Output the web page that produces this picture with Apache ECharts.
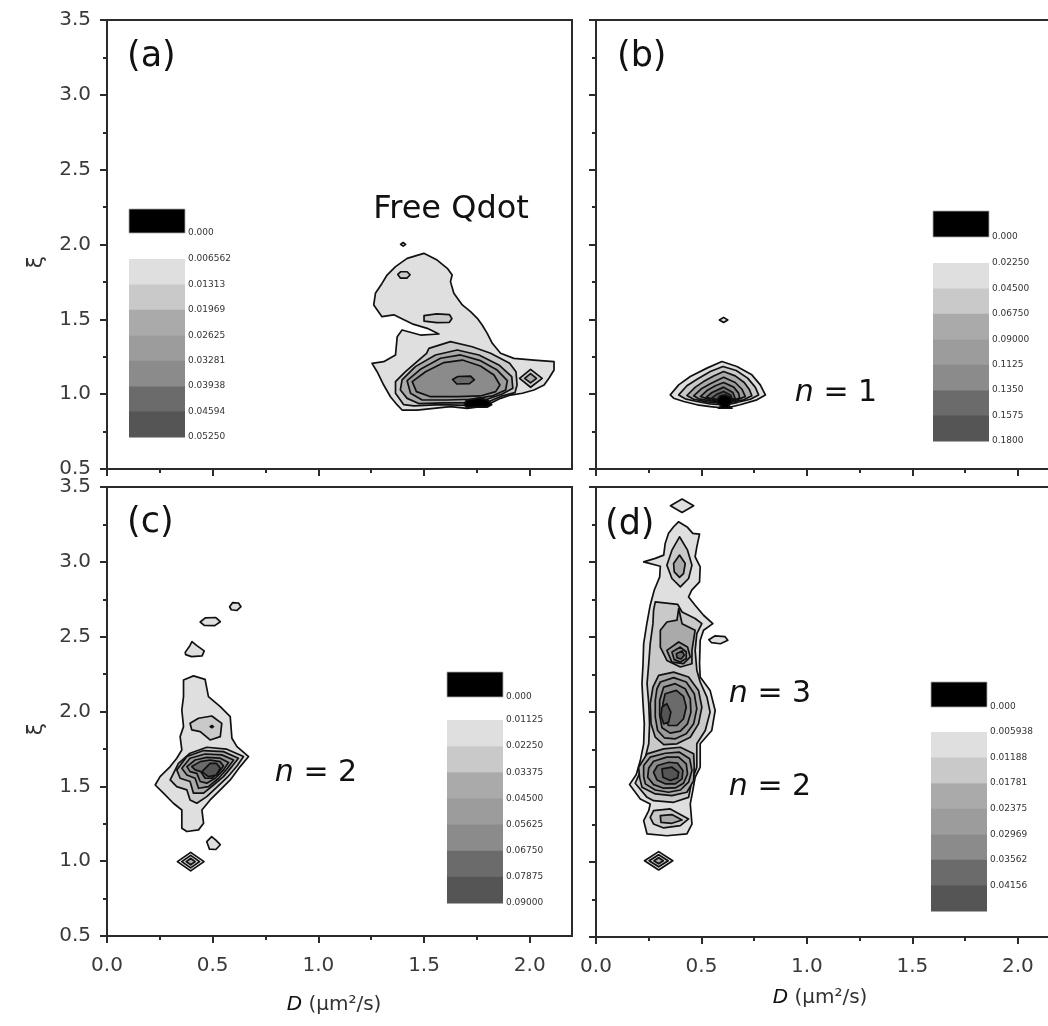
<!DOCTYPE html>
<html><head><meta charset="utf-8">
<script src="https://cdn.jsdelivr.net/npm/echarts@6/dist/echarts.min.js"></script>
<style>html,body{margin:0;padding:0;background:#fff;overflow:hidden;width:1048px;height:1026px}#c{width:1070px;height:1026px}</style>
</head><body><div id="c"></div>
<script>
// ---- axis ticks ----
const xTicks = [0, 0.5, 1, 1.5, 2];
const xMinor = [0.25, 0.75, 1.25, 1.75];
const yTicks = [0.5, 1, 1.5, 2, 2.5, 3, 3.5];
const yMinor = [0.75, 1.25, 1.75, 2.25, 2.75, 3.25];

// ---- contour band colours (lowest level first); level 8 = above top level ----
const bandColors = ['#dfdfdf', '#c9c9c9', '#aaaaaa', '#9c9c9c', '#8b8b8b', '#6b6b6b', '#555555'];
const topColor = '#000000';

// ---- legend level labels ----
const levelsA = ['0.006562', '0.01313', '0.01969', '0.02625', '0.03281', '0.03938', '0.04594', '0.05250'];
const levelsB = ['0.02250', '0.04500', '0.06750', '0.09000', '0.1125', '0.1350', '0.1575', '0.1800'];
const levelsC = ['0.01125', '0.02250', '0.03375', '0.04500', '0.05625', '0.06750', '0.07875', '0.09000'];
const levelsD = ['0.005938', '0.01188', '0.01781', '0.02375', '0.02969', '0.03562', '0.04156'];

// ---- contour rings: [level, [[D, xi], ...]] ----
const ringsA = [
 [1, [[1.499,1.941],[1.562,1.896],[1.610,1.841],[1.633,1.796],[1.625,1.752],[1.641,1.674],[1.681,1.596],[1.720,1.551],[1.752,1.507],[1.775,1.462],[1.799,1.406],[1.823,1.340],[1.862,1.273],[1.925,1.239],[2.020,1.228],[2.115,1.217],[2.115,1.161],[2.091,1.106],[2.068,1.061],[2.020,1.028],[1.965,1.006],[1.910,0.994],[1.862,0.972],[1.815,0.939],[1.767,0.917],[1.704,0.905],[1.625,0.917],[1.546,0.905],[1.467,0.894],[1.396,0.894],[1.373,0.928],[1.341,0.983],[1.309,1.061],[1.278,1.150],[1.254,1.206],[1.309,1.217],[1.365,1.262],[1.373,1.384],[1.396,1.429],[1.483,1.395],[1.570,1.402],[1.515,1.440],[1.444,1.470],[1.400,1.500],[1.357,1.530],[1.301,1.518],[1.262,1.596],[1.270,1.674],[1.301,1.740],[1.325,1.796],[1.365,1.852],[1.420,1.907]]],
 [1, [[1.389,2.001],[1.401,2.013],[1.413,2.001],[1.401,1.989]]],
 [2, [[1.376,1.800],[1.390,1.818],[1.420,1.818],[1.434,1.798],[1.420,1.776],[1.388,1.776]]],
 [2, [[1.500,1.525],[1.560,1.536],[1.620,1.532],[1.632,1.505],[1.620,1.480],[1.560,1.478],[1.500,1.488]]],
 [2, [[1.952,1.106],[2.004,1.166],[2.059,1.106],[2.004,1.046]]],
 [3, [[1.976,1.106],[2.004,1.137],[2.032,1.106],[2.004,1.075]]],
 [2, [[1.523,1.306],[1.625,1.351],[1.728,1.317],[1.815,1.273],[1.905,1.206],[1.935,1.150],[1.940,1.061],[1.930,1.010],[1.862,0.985],[1.799,0.945],[1.704,0.925],[1.578,0.930],[1.452,0.922],[1.404,0.930],[1.365,1.006],[1.365,1.084],[1.412,1.150],[1.475,1.228],[1.512,1.273]]],
 [3, [[1.396,1.095],[1.459,1.184],[1.554,1.262],[1.657,1.295],[1.760,1.262],[1.854,1.195],[1.915,1.117],[1.920,1.039],[1.870,1.001],[1.799,0.966],[1.704,0.942],[1.594,0.942],[1.475,0.937],[1.420,0.972],[1.388,1.028]]],
 [4, [[1.420,1.090],[1.483,1.166],[1.578,1.240],[1.673,1.262],[1.767,1.224],[1.846,1.161],[1.894,1.090],[1.886,1.028],[1.823,0.988],[1.728,0.966],[1.610,0.961],[1.491,0.961],[1.436,1.006]]],
 [5, [[1.444,1.084],[1.507,1.150],[1.594,1.211],[1.681,1.228],[1.767,1.188],[1.831,1.128],[1.859,1.061],[1.839,1.017],[1.767,0.988],[1.657,0.983],[1.531,0.983],[1.464,1.017]]],
 [6, [[1.635,1.098],[1.660,1.118],[1.720,1.121],[1.738,1.095],[1.715,1.070],[1.655,1.068]]],
 [8, [[1.700,0.960],[1.760,0.975],[1.800,0.962],[1.820,0.930],[1.800,0.914],[1.700,0.914],[1.690,0.930]]]
];

const ringsB = [
 [1, [[0.585,1.496],[0.605,1.513],[0.625,1.496],[0.605,1.479]]],
 [1, [[0.352,0.995],[0.392,1.062],[0.447,1.118],[0.526,1.174],[0.597,1.218],[0.668,1.185],[0.739,1.129],[0.779,1.062],[0.803,0.995],[0.763,0.962],[0.684,0.929],[0.613,0.906],[0.542,0.917],[0.479,0.929],[0.416,0.951],[0.368,0.973]]],
 [2, [[0.392,0.995],[0.431,1.056],[0.479,1.100],[0.542,1.151],[0.602,1.185],[0.665,1.158],[0.719,1.107],[0.755,1.047],[0.771,0.995],[0.732,0.966],[0.668,0.944],[0.613,0.929],[0.542,0.935],[0.479,0.951],[0.423,0.969]]],
 [3, [[0.431,0.991],[0.471,1.047],[0.510,1.084],[0.558,1.122],[0.605,1.151],[0.660,1.122],[0.703,1.078],[0.728,1.029],[0.739,0.989],[0.700,0.962],[0.613,0.940],[0.526,0.949],[0.463,0.966]]],
 [4, [[0.463,0.989],[0.502,1.038],[0.542,1.069],[0.605,1.113],[0.660,1.078],[0.692,1.033],[0.708,0.984],[0.668,0.962],[0.613,0.946],[0.542,0.955],[0.487,0.969]]],
 [5, [[0.495,0.984],[0.526,1.024],[0.566,1.056],[0.605,1.078],[0.653,1.047],[0.676,1.007],[0.681,0.973],[0.613,0.951],[0.542,0.962]]],
 [6, [[0.523,0.980],[0.550,1.011],[0.605,1.047],[0.649,1.011],[0.660,0.971],[0.613,0.955],[0.558,0.964]]],
 [7, [[0.550,0.975],[0.574,1.000],[0.605,1.018],[0.637,0.995],[0.645,0.969],[0.605,0.958],[0.570,0.964]]],
 [8, [[0.574,0.962],[0.589,0.989],[0.613,0.995],[0.637,0.980],[0.645,0.951],[0.629,0.922],[0.645,0.906],[0.581,0.906],[0.594,0.922],[0.577,0.940]]]
];

const ringsC = [
 [1, [[0.580,2.700],[0.595,2.728],[0.622,2.725],[0.634,2.700],[0.615,2.675],[0.588,2.680]]],
 [1, [[0.441,2.598],[0.465,2.625],[0.515,2.628],[0.536,2.600],[0.510,2.574],[0.460,2.576]]],
 [1, [[0.370,2.395],[0.392,2.440],[0.402,2.467],[0.425,2.440],[0.460,2.405],[0.450,2.372],[0.400,2.367],[0.372,2.380]]],
 [1, [[0.362,2.211],[0.409,2.238],[0.464,2.215],[0.480,2.099],[0.536,2.033],[0.583,1.966],[0.591,1.821],[0.615,1.765],[0.670,1.699],[0.630,1.632],[0.583,1.543],[0.536,1.476],[0.488,1.409],[0.449,1.342],[0.457,1.253],[0.433,1.209],[0.378,1.198],[0.354,1.220],[0.354,1.342],[0.314,1.387],[0.267,1.454],[0.228,1.509],[0.251,1.565],[0.299,1.632],[0.330,1.688],[0.354,1.743],[0.346,1.832],[0.362,1.899],[0.354,2.010],[0.362,2.099]]],
 [1, [[0.472,1.130],[0.495,1.164],[0.515,1.140],[0.536,1.110],[0.515,1.078],[0.485,1.080]]],
 [1, [[0.333,0.997],[0.396,1.059],[0.459,0.997],[0.396,0.935]]],
 [2, [[0.354,0.997],[0.396,1.039],[0.438,0.997],[0.396,0.955]]],
 [3, [[0.375,0.997],[0.396,1.018],[0.417,0.997],[0.396,0.976]]],
 [2, [[0.393,1.921],[0.433,1.955],[0.496,1.970],[0.543,1.921],[0.536,1.832],[0.488,1.810],[0.441,1.866],[0.401,1.877]]],
 [3, [[0.488,1.899],[0.496,1.906],[0.504,1.899],[0.496,1.892]]],
 [2, [[0.299,1.543],[0.338,1.654],[0.393,1.721],[0.472,1.761],[0.567,1.748],[0.646,1.699],[0.615,1.636],[0.570,1.561],[0.520,1.494],[0.472,1.431],[0.425,1.387],[0.393,1.409],[0.378,1.476],[0.330,1.498]]],
 [3, [[0.330,1.610],[0.378,1.699],[0.457,1.739],[0.551,1.732],[0.622,1.688],[0.591,1.632],[0.551,1.565],[0.504,1.509],[0.457,1.454],[0.409,1.454],[0.393,1.532],[0.346,1.554]]],
 [4, [[0.354,1.621],[0.393,1.688],[0.464,1.716],[0.543,1.710],[0.599,1.676],[0.570,1.621],[0.528,1.554],[0.480,1.498],[0.433,1.487],[0.417,1.554],[0.378,1.576]]],
 [5, [[0.378,1.632],[0.417,1.676],[0.472,1.694],[0.536,1.688],[0.575,1.659],[0.551,1.610],[0.512,1.554],[0.472,1.521],[0.441,1.532],[0.425,1.587],[0.393,1.598]]],
 [6, [[0.401,1.632],[0.441,1.665],[0.488,1.676],[0.536,1.665],[0.551,1.636],[0.528,1.592],[0.496,1.554],[0.464,1.554],[0.444,1.598],[0.417,1.610]]],
 [7, [[0.449,1.598],[0.488,1.654],[0.517,1.654],[0.536,1.621],[0.517,1.576],[0.480,1.565]]]
];

const ringsD = [
 [1, [[0.353,3.375],[0.408,3.420],[0.463,3.375],[0.408,3.330]]],
 [1, [[0.391,3.268],[0.434,3.231],[0.459,3.191],[0.491,3.186],[0.478,3.101],[0.470,3.035],[0.494,2.968],[0.491,2.868],[0.454,2.812],[0.439,2.767],[0.470,2.712],[0.510,2.645],[0.554,2.589],[0.510,2.545],[0.494,2.478],[0.491,2.322],[0.494,2.233],[0.541,2.144],[0.565,2.010],[0.549,1.877],[0.494,1.788],[0.494,1.632],[0.470,1.565],[0.459,1.476],[0.447,1.387],[0.455,1.253],[0.431,1.187],[0.336,1.175],[0.242,1.187],[0.226,1.276],[0.250,1.342],[0.257,1.387],[0.210,1.420],[0.159,1.516],[0.191,1.583],[0.210,1.676],[0.226,1.788],[0.229,1.921],[0.223,2.055],[0.218,2.189],[0.223,2.322],[0.226,2.456],[0.241,2.589],[0.257,2.712],[0.276,2.812],[0.302,2.901],[0.305,2.972],[0.226,3.001],[0.281,3.024],[0.321,3.046],[0.328,3.124],[0.344,3.191],[0.368,3.235]]],
 [1, [[0.535,2.482],[0.565,2.508],[0.612,2.502],[0.625,2.478],[0.590,2.455],[0.548,2.462]]],
 [2, [[0.396,3.168],[0.434,3.079],[0.455,2.979],[0.439,2.890],[0.400,2.834],[0.360,2.890],[0.336,2.979],[0.360,3.079]]],
 [3, [[0.396,3.046],[0.423,2.990],[0.415,2.923],[0.396,2.897],[0.371,2.934],[0.368,2.990]]],
 [2, [[0.281,2.734],[0.387,2.718],[0.408,2.667],[0.470,2.623],[0.502,2.589],[0.478,2.523],[0.470,2.411],[0.478,2.278],[0.494,2.200],[0.526,2.099],[0.541,1.999],[0.518,1.877],[0.478,1.788],[0.478,1.632],[0.455,1.543],[0.439,1.431],[0.368,1.398],[0.273,1.409],[0.242,1.431],[0.186,1.525],[0.207,1.592],[0.234,1.699],[0.250,1.788],[0.254,1.921],[0.250,2.055],[0.242,2.189],[0.250,2.322],[0.257,2.456],[0.270,2.589],[0.273,2.678]]],
 [3, [[0.392,2.690],[0.408,2.589],[0.470,2.545],[0.455,2.411],[0.455,2.322],[0.400,2.300],[0.336,2.344],[0.305,2.433],[0.305,2.545],[0.336,2.600],[0.384,2.612]]],
 [4, [[0.336,2.411],[0.392,2.467],[0.434,2.433],[0.447,2.367],[0.415,2.322],[0.360,2.333]]],
 [5, [[0.360,2.400],[0.400,2.433],[0.428,2.400],[0.428,2.356],[0.400,2.333],[0.371,2.349]]],
 [6, [[0.381,2.389],[0.408,2.407],[0.419,2.378],[0.403,2.353],[0.384,2.362]]],
 [3, [[0.297,2.244],[0.368,2.266],[0.439,2.233],[0.486,2.144],[0.502,2.033],[0.486,1.921],[0.447,1.832],[0.384,1.788],[0.321,1.783],[0.281,1.832],[0.261,1.921],[0.257,2.055],[0.270,2.166]]],
 [4, [[0.305,2.200],[0.368,2.229],[0.428,2.200],[0.466,2.122],[0.478,2.022],[0.463,1.921],[0.428,1.855],[0.376,1.821],[0.324,1.828],[0.292,1.877],[0.281,1.966],[0.281,2.077],[0.289,2.155]]],
 [5, [[0.321,2.166],[0.376,2.189],[0.423,2.155],[0.447,2.088],[0.450,1.999],[0.434,1.921],[0.400,1.872],[0.352,1.859],[0.313,1.895],[0.302,1.977],[0.302,2.077]]],
 [6, [[0.328,2.122],[0.381,2.144],[0.415,2.104],[0.428,2.033],[0.415,1.955],[0.384,1.910],[0.344,1.910],[0.321,1.966],[0.317,2.055]]],
 [7, [[0.313,2.033],[0.336,2.055],[0.355,1.999],[0.344,1.932],[0.321,1.921],[0.308,1.977]]],
 [3, [[0.242,1.721],[0.321,1.754],[0.400,1.765],[0.463,1.721],[0.466,1.632],[0.463,1.543],[0.431,1.465],[0.360,1.443],[0.281,1.454],[0.218,1.498],[0.207,1.561],[0.202,1.632]]],
 [4, [[0.257,1.699],[0.328,1.725],[0.396,1.732],[0.444,1.688],[0.455,1.610],[0.439,1.532],[0.400,1.480],[0.344,1.465],[0.281,1.480],[0.234,1.521],[0.226,1.570],[0.226,1.643]]],
 [5, [[0.273,1.672],[0.336,1.699],[0.392,1.699],[0.428,1.654],[0.434,1.587],[0.415,1.525],[0.376,1.494],[0.321,1.492],[0.273,1.516],[0.245,1.565],[0.250,1.627]]],
 [6, [[0.292,1.643],[0.344,1.665],[0.387,1.659],[0.412,1.610],[0.408,1.554],[0.376,1.521],[0.328,1.521],[0.289,1.547],[0.273,1.598]]],
 [7, [[0.313,1.621],[0.360,1.632],[0.392,1.598],[0.387,1.561],[0.352,1.543],[0.317,1.565]]],
 [2, [[0.273,1.342],[0.352,1.354],[0.439,1.287],[0.400,1.242],[0.321,1.227],[0.273,1.253],[0.257,1.298]]],
 [3, [[0.305,1.309],[0.360,1.316],[0.408,1.280],[0.360,1.258],[0.308,1.264]]],
 [1, [[0.230,1.008],[0.297,1.069],[0.364,1.008],[0.297,0.947]]],
 [2, [[0.252,1.008],[0.297,1.048],[0.342,1.008],[0.297,0.968]]],
 [3, [[0.275,1.008],[0.297,1.028],[0.319,1.008],[0.297,0.988]]]
];

// ---------------- layout / rendering ----------------
const FONT = 'DejaVu Sans';
const AX = '#2b2b2b';
const grids = [
  {left: 107, top: 20, width: 465, height: 449},
  {left: 596, top: 20, width: 464, height: 449},
  {left: 107, top: 487, width: 465, height: 449},
  {left: 596, top: 487, width: 464, height: 450}
].map(g => Object.assign(g, {show: true, borderColor: AX, borderWidth: 2, containLabel: false}));

const xAxes = [], yAxes = [];
grids.forEach((g, i) => {
  const showX = i >= 2, showY = (i % 2 === 0);
  xAxes.push({gridIndex: i, type: 'value', min: 0, max: 2.2, position: 'bottom',
    axisLine: {show: true, onZero: false, lineStyle: {color: AX, width: 2}},
    axisTick: {show: true, inside: false, length: 7, customValues: xTicks, lineStyle: {color: AX, width: 2}},
    axisLabel: {show: showX, customValues: xTicks, formatter: v => v.toFixed(1), margin: 20,
      fontSize: 20, fontFamily: FONT, color: '#3a3a3a'},
    splitLine: {show: false}});
  xAxes.push({gridIndex: i, type: 'value', min: 0, max: 2.2, position: 'bottom',
    axisLine: {show: false, onZero: false},
    axisTick: {show: true, inside: false, length: 4, customValues: xMinor, lineStyle: {color: AX, width: 2}},
    axisLabel: {show: false}, splitLine: {show: false}});
  yAxes.push({gridIndex: i, type: 'value', min: 0.5, max: 3.5, position: 'left',
    axisLine: {show: true, onZero: false, lineStyle: {color: AX, width: 2}},
    axisTick: {show: true, inside: false, length: 7, customValues: yTicks, lineStyle: {color: AX, width: 2}},
    axisLabel: {show: showY, customValues: yTicks, formatter: v => v.toFixed(1), margin: 16,
      fontSize: 20, fontFamily: FONT, color: '#3a3a3a'},
    splitLine: {show: false}});
  yAxes.push({gridIndex: i, type: 'value', min: 0.5, max: 3.5, position: 'left',
    axisLine: {show: false, onZero: false},
    axisTick: {show: true, inside: false, length: 4, customValues: yMinor, lineStyle: {color: AX, width: 2}},
    axisLabel: {show: false}, splitLine: {show: false}});
});

function contourSeries(rings, gi) {
  return {
    type: 'custom', coordinateSystem: 'cartesian2d', xAxisIndex: gi * 2, yAxisIndex: gi * 2,
    clip: true, silent: true, animation: false,
    data: rings.map((r, i) => [r[1][0][0], r[1][0][1], i]),
    encode: {x: 0, y: 1},
    renderItem: (params, api) => {
      const r = rings[params.dataIndex];
      const pts = r[1].map(p => api.coord(p));
      const fill = r[0] >= 8 ? topColor : bandColors[r[0] - 1];
      return {type: 'polygon', z2: params.dataIndex, shape: {points: pts},
        style: {fill: fill, stroke: '#111111', lineWidth: 1.7, lineJoin: 'round'}};
    }
  };
}

function legendEls(labels, x, blackTop, blackH, stackTop, stackBottom) {
  const w = 56, els = [];
  els.push({type: 'rect', shape: {x: x, y: blackTop, width: w, height: blackH},
    style: {fill: '#000', stroke: '#aaa', lineWidth: 0.8}});
  els.push({type: 'text', x: x + w + 3, y: blackTop + blackH,
    style: {text: '0.000', fontSize: 9, fontFamily: FONT, fill: '#333', verticalAlign: 'middle', textVerticalAlign: 'middle'}});
  const n = bandColors.length, h = (stackBottom - stackTop) / n;
  for (let i = 0; i < n; i++) {
    els.push({type: 'rect', shape: {x: x, y: stackTop + i * h, width: w, height: h + 0.5},
      style: {fill: bandColors[i]}});
  }
  labels.forEach((t, i) => els.push({type: 'text', x: x + w + 3, y: stackTop + i * h,
    style: {text: t, fontSize: 9, fontFamily: FONT, fill: '#333', verticalAlign: 'middle', textVerticalAlign: 'middle'}}));
  return els;
}

function label(txt, x, y, size, align, extra) {
  return Object.assign({type: 'text', x: x, y: y, z: 50,
    style: Object.assign({text: txt, fontSize: size, fontFamily: FONT, fill: '#111',
      align: align || 'left', textAlign: align || 'left', verticalAlign: 'middle', textVerticalAlign: 'middle',
      rich: {i: {fontStyle: 'italic', fontSize: size, fontFamily: FONT, fill: '#111'}}}, extra || {})});
}

const graphicEls = [].concat(
  legendEls(levelsA, 129, 209, 24, 259, 437),
  legendEls(levelsB, 933, 211, 26, 263, 441),
  legendEls(levelsC, 447, 672, 25, 720, 903),
  legendEls(levelsD, 931, 682, 25, 732, 911),
  [
    label('(a)', 127, 57, 35),
    label('(b)', 617, 57, 35),
    label('(c)', 127, 523, 35),
    label('(d)', 605, 525, 35),
    label('Free Qdot', 451, 210, 32, 'center'),
    label('{i|n} = 1', 836, 393, 30, 'center'),
    label('{i|n} = 2', 316, 773, 30, 'center'),
    label('{i|n} = 3', 770, 694, 30, 'center'),
    label('{i|n} = 2', 770, 787, 30, 'center'),
    label('{i|D} (μm²/s)', 334, 1005, 20, 'center', {fill: '#333'}),
    label('{i|D} (μm²/s)', 820, 998, 20, 'center', {fill: '#333'}),
    Object.assign(label('ξ', 36, 262, 22, 'center', {fill: '#333'}), {rotation: Math.PI / 2}),
    Object.assign(label('ξ', 36, 729, 22, 'center', {fill: '#333'}), {rotation: Math.PI / 2})
  ]
);

const chart = echarts.init(document.getElementById('c'), null, {renderer: 'canvas'});
chart.setOption({
  animation: false,
  backgroundColor: '#ffffff',
  grid: grids,
  xAxis: xAxes,
  yAxis: yAxes,
  series: [contourSeries(ringsA, 0), contourSeries(ringsB, 1), contourSeries(ringsC, 2), contourSeries(ringsD, 3)],
  graphic: {elements: graphicEls}
});
</script>
</body></html>
